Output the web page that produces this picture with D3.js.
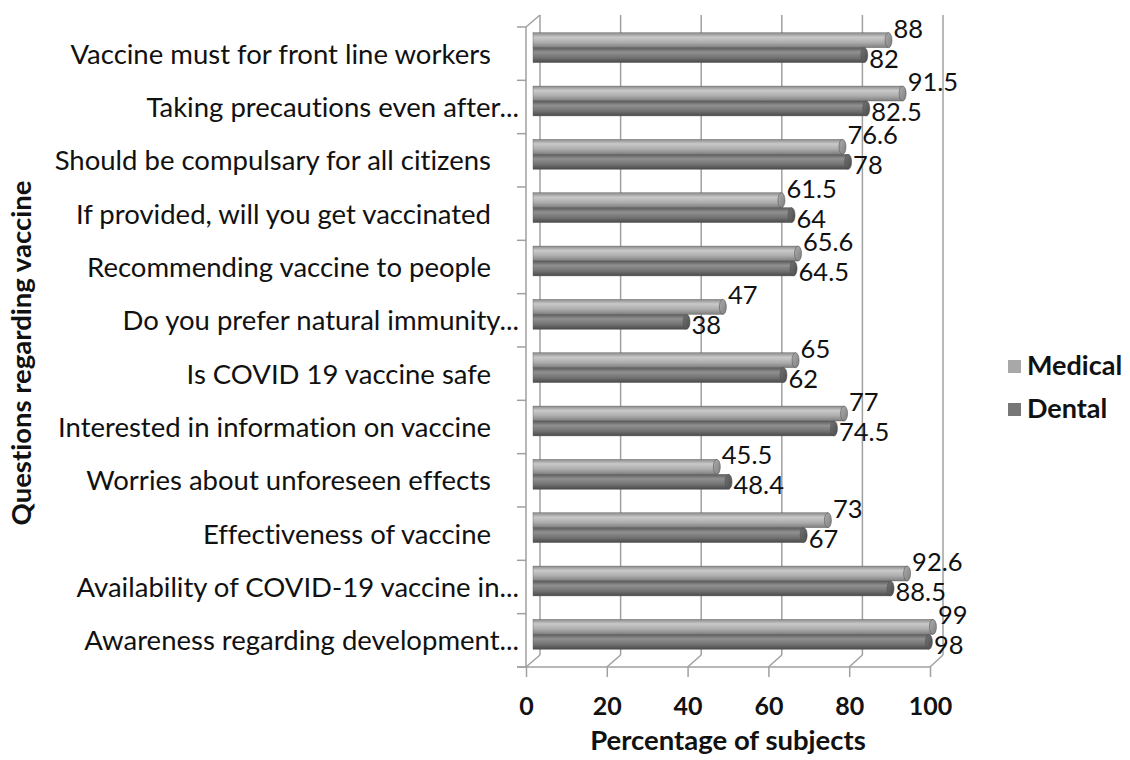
<!DOCTYPE html>
<html><head><meta charset="utf-8">
<script src="https://cdn.jsdelivr.net/npm/d3@7"></script>
<style>
html,body{margin:0;padding:0;background:#fff;}
svg text{font-family:Lato,"Open Sans",sans-serif;fill:#111;font-variant-ligatures:none;font-feature-settings:"liga" 0,"clig" 0;}
</style></head>
<body><svg id="c" width="1130" height="760"></svg>
<script>
const categories = [
  "Vaccine must for front line workers",
  "Taking precautions even after...",
  "Should be compulsary for all citizens",
  "If provided, will you get vaccinated",
  "Recommending vaccine to people",
  "Do you prefer natural immunity...",
  "Is COVID 19 vaccine safe",
  "Interested in information on vaccine",
  "Worries about unforeseen effects",
  "Effectiveness of vaccine",
  "Availability of COVID-19 vaccine in...",
  "Awareness regarding development..."
];
const medical = [88, 91.5, 76.6, 61.5, 65.6, 47, 65, 77, 45.5, 73, 92.6, 99];
const dental  = [82, 82.5, 78, 64, 64.5, 38, 62, 74.5, 48.4, 67, 88.5, 98];
const seriesNames = ["Medical", "Dental"];
const xTicks = [0, 20, 40, 60, 80, 100];

const svg = d3.select("#c");
const depth = {dx: 14, dy: -12};
const front = {left: 526, right: 930, top: 27, bottom: 667};

const xFront = d3.scaleLinear().domain([0, 100]).range([front.left, front.right]);
const xBack = d3.scaleLinear().domain([0, 100]).range([front.left + depth.dx, front.right + depth.dx - 1]);
const xMid = d3.scaleLinear().domain([0, 100]).range([front.left + depth.dx / 2, front.right + depth.dx / 2]);
const yFront = d3.scaleBand().domain(categories).range([front.top, front.bottom]);
const yMid = d3.scaleBand().domain(categories).range([front.top + depth.dy / 2, front.bottom + depth.dy / 2]).paddingInner(0.44).paddingOuter(0.22);
const ySub = d3.scaleBand().domain(seriesNames).range([0, yMid.bandwidth()]);

const colors = {Medical: ["#8a8a8a", "#c9c9c9", "#adadad", "#7e7e7e"], Dental: ["#5c5c5c", "#909090", "#747474", "#4a4a4a"]};
const legendColors = {Medical: "#a8a8a8", Dental: "#777777"};

const defs = svg.append("defs");
seriesNames.forEach(s => {
  const g = defs.append("linearGradient").attr("id", "g" + s).attr("x1", 0).attr("y1", 0).attr("x2", 0).attr("y2", 1);
  const c = colors[s];
  g.append("stop").attr("offset", "0%").attr("stop-color", c[0]);
  g.append("stop").attr("offset", "30%").attr("stop-color", c[1]);
  g.append("stop").attr("offset", "65%").attr("stop-color", c[2]);
  g.append("stop").attr("offset", "100%").attr("stop-color", c[3]);
  const gc = defs.append("linearGradient").attr("id", "c" + s).attr("x1", 0).attr("y1", 0).attr("x2", 1).attr("y2", 1);
  gc.append("stop").attr("offset", "0%").attr("stop-color", c[2]);
  gc.append("stop").attr("offset", "100%").attr("stop-color", c[3]);
});

const grid = "#a0a0a0";
const backTop = front.top + depth.dy;
const backBottom = front.bottom + depth.dy;

// back wall gridlines
svg.append("g").selectAll("line").data(xTicks).join("line")
  .attr("x1", d => xBack(d)).attr("x2", d => xBack(d))
  .attr("y1", backTop).attr("y2", backBottom)
  .attr("stroke", grid).attr("stroke-width", 1.5);
// floor diagonals
svg.append("g").selectAll("line").data(xTicks).join("line")
  .attr("x1", d => xBack(d)).attr("x2", d => xFront(d))
  .attr("y1", backBottom).attr("y2", front.bottom)
  .attr("stroke", grid).attr("stroke-width", 1.5);
// left wall front edge and top
svg.append("line").attr("x1", front.left).attr("x2", front.left).attr("y1", front.top).attr("y2", front.bottom).attr("stroke", grid).attr("stroke-width", 1.5);
svg.append("line").attr("x1", front.left).attr("x2", xBack(0)).attr("y1", front.top).attr("y2", backTop).attr("stroke", grid).attr("stroke-width", 1.5);

// category axis ticks
const catEdges = categories.map(c => yFront(c)).concat([front.bottom]);
svg.append("g").selectAll("line").data(catEdges).join("line")
  .attr("x1", front.left - 9).attr("x2", front.left)
  .attr("y1", d => d).attr("y2", d => d)
  .attr("stroke", grid).attr("stroke-width", 1.5);

// x axis (front floor edge) with ticks
const xAxis = svg.append("g").attr("transform", `translate(0,${front.bottom})`)
  .call(d3.axisBottom(xFront).tickValues(xTicks).tickSize(10).tickPadding(20).tickSizeOuter(0));
xAxis.select(".domain").attr("stroke", grid).attr("stroke-width", 1.5).attr("d", `M${front.left - 9},0H${front.right}`);
xAxis.selectAll(".tick line").attr("stroke", grid).attr("stroke-width", 1.5);
xAxis.selectAll(".tick text").attr("font-size", 25).attr("font-weight", "bold").attr("fill", "#111");

// y labels (truncated labels fill the full width, others keep a gap)
svg.append("g").selectAll("text").data(categories).join("text")
  .attr("x", d => d.endsWith("...") ? 519 : 491)
  .attr("y", d => yFront(d) + yFront.bandwidth() / 2 + 3)
  .attr("text-anchor", "end").attr("dominant-baseline", "middle")
  .attr("font-size", 27.5)
  .text(d => d);

// bars
const rows = [];
categories.forEach((c, i) => {
  rows.push({cat: c, s: "Medical", v: medical[i]});
  rows.push({cat: c, s: "Dental", v: dental[i]});
});
const bh = ySub.bandwidth();
const bars = svg.append("g").selectAll("g").data(rows).join("g");
bars.append("rect")
  .attr("x", xMid(0)).attr("y", d => yMid(d.cat) + ySub(d.s))
  .attr("width", d => xMid(d.v) - xMid(0)).attr("height", bh)
  .attr("fill", d => `url(#g${d.s})`)
  .attr("stroke", "#5a5a5a").attr("stroke-width", 0.4);
bars.append("ellipse")
  .attr("cx", d => xMid(d.v)).attr("cy", d => yMid(d.cat) + ySub(d.s) + bh / 2)
  .attr("rx", 3.5).attr("ry", bh / 2)
  .attr("fill", d => `url(#c${d.s})`)
  .attr("stroke", "#4a4a4a").attr("stroke-width", 0.5);

// value labels
svg.append("g").selectAll("text").data(rows).join("text")
  .attr("x", d => xMid(d.v) + 5)
  .attr("y", d => yMid(d.cat) + ySub(d.s) + bh / 2 + (d.s === "Medical" ? -9 : 6))
  .attr("dominant-baseline", "middle")
  .attr("font-size", 25.5)
  .text(d => d.v);

// axis titles
svg.append("text").attr("x", 728).attr("y", 743).attr("text-anchor", "middle").attr("dominant-baseline", "middle")
  .attr("font-size", 27.5).attr("font-weight", "bold").text("Percentage of subjects");
svg.append("text").attr("transform", "translate(24,353) rotate(-90)").attr("text-anchor", "middle").attr("dominant-baseline", "middle")
  .attr("font-size", 27.5).attr("font-weight", "bold").text("Questions regarding vaccine");

// legend
const leg = svg.append("g").selectAll("g").data(seriesNames).join("g")
  .attr("transform", (d, i) => `translate(1008,${367 + i * 43})`);
leg.append("rect").attr("x", 0).attr("y", -7).attr("width", 13).attr("height", 13).attr("fill", d => legendColors[d]);
leg.append("text").attr("x", 19).attr("y", 1).attr("dominant-baseline", "middle")
  .attr("font-size", 27).attr("font-weight", "bold").text(d => d);
</script></body></html>
